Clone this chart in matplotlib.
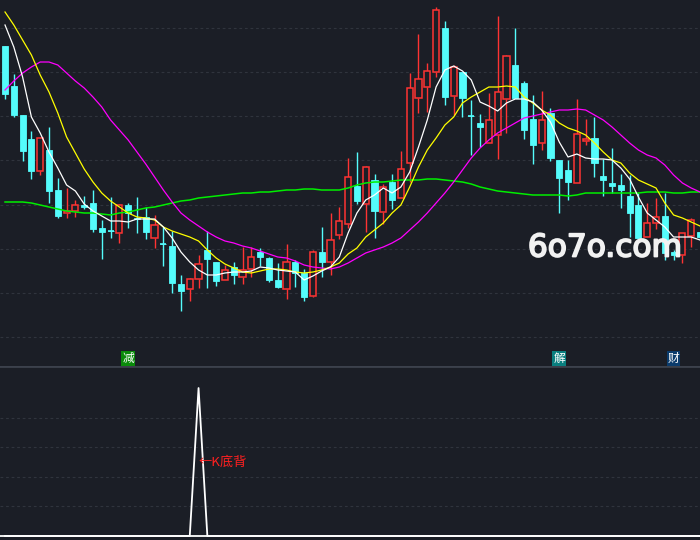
import numpy as np
import matplotlib.pyplot as plt
from matplotlib import patheffects

# Daily candles, price units.
OPEN = [32.0, 28.0, 25.1, 22.7, 19.5, 21.6, 17.6, 15.3, 15.5, 16.1,
        16.3, 13.8, 13.5, 13.3, 16.1, 14.8, 14.9, 12.8, 12.2, 12.0,
        8.2, 7.7, 8.7, 11.6, 10.4, 8.6, 9.9, 8.9, 9.7, 11.4,
        10.8, 8.6, 7.7, 10.4, 9.3, 7.0, 11.4, 10.4, 13.1, 14.2,
        18.0, 16.2, 18.6, 15.4, 18.4, 16.8, 20.3, 26.8, 27.9, 29.4,
        33.8, 27.0, 29.4, 25.0, 24.3, 22.3, 23.1, 26.7, 30.1, 28.3,
        24.7, 22.3, 25.3, 20.6, 19.6, 18.3, 22.5, 22.8, 19.0, 18.3,
        18.1, 17.0, 16.1, 12.9, 14.3, 15.0, 11.4, 11.1, 13.0, 13.4]
HIGH = [32.0, 29.2, 25.1, 23.5, 22.8, 23.9, 18.8, 17.8, 16.6, 17.0,
        17.6, 14.6, 16.9, 16.2, 16.3, 16.9, 15.9, 15.1, 13.9, 13.5,
        9.1, 8.8, 11.1, 13.5, 10.4, 10.1, 10.4, 11.9, 11.9, 11.8,
        10.9, 10.3, 12.2, 10.6, 9.7, 11.6, 13.9, 15.3, 15.9, 20.8,
        21.4, 20.0, 19.2, 18.2, 19.2, 21.5, 29.3, 33.2, 30.3, 35.9,
        34.5, 30.1, 29.4, 26.6, 25.2, 27.3, 35.0, 31.1, 33.8, 28.5,
        27.1, 27.5, 25.8, 20.6, 20.6, 26.7, 24.7, 24.9, 20.7, 21.8,
        19.2, 19.1, 17.3, 16.3, 16.8, 17.3, 11.6, 13.3, 14.8, 13.4]
LOW = [26.7, 24.9, 20.5, 18.7, 19.1, 16.3, 14.8, 14.8, 14.9, 15.7,
       13.4, 10.7, 12.8, 12.3, 13.8, 13.3, 12.7, 11.8, 10.0, 7.3,
       5.5, 6.5, 7.8, 7.8, 8.0, 8.6, 8.2, 8.2, 8.9, 10.0,
       8.4, 7.8, 6.7, 7.9, 6.5, 6.9, 8.9, 9.1, 12.7, 13.8,
       16.2, 13.4, 12.8, 14.2, 15.7, 16.8, 18.4, 25.3, 25.4, 28.9,
       26.1, 25.1, 24.9, 21.1, 21.9, 22.3, 20.7, 23.3, 26.8, 22.7,
       20.2, 21.6, 20.5, 15.3, 16.6, 18.3, 22.1, 18.9, 17.0, 17.3,
       15.8, 12.9, 12.7, 12.9, 13.7, 10.6, 10.6, 10.3, 11.9, 12.6]
CLOSE = [27.2, 25.1, 21.5, 19.5, 22.8, 17.5, 15.0, 15.5, 16.1, 15.9,
         13.7, 13.4, 13.5, 16.1, 15.3, 14.7, 13.4, 14.1, 12.2, 8.3,
         7.5, 8.7, 10.2, 10.7, 8.5, 9.6, 9.1, 9.6, 10.9, 10.9,
         8.6, 7.9, 10.4, 9.3, 6.9, 11.4, 10.4, 12.6, 14.5, 18.9,
         16.5, 19.9, 15.5, 17.9, 16.6, 19.7, 27.8, 28.7, 29.5, 35.6,
         26.9, 29.9, 26.8, 25.0, 23.9, 24.6, 27.4, 31.0, 26.8, 23.6,
         22.1, 24.6, 20.8, 18.8, 18.4, 23.2, 22.7, 20.3, 18.6, 18.0,
         17.6, 15.3, 12.8, 14.3, 14.9, 11.3, 11.1, 13.3, 14.6, 12.9]

# Moving averages as shown on the chart.
MA5 = [34.1, 31.9, 28.9, 24.9, 23.3, 21.4, 19.8, 18.1, 17.5, 16.2,
       15.5, 15.0, 14.5, 14.5, 14.4, 14.7, 14.7, 14.7, 13.9, 12.8,
       11.4, 10.4, 9.6, 9.1, 9.1, 9.3, 9.4, 9.4, 9.5, 9.9,
       9.8, 9.6, 9.5, 9.4, 8.6, 9.0, 9.5, 9.9, 10.9, 13.3,
       15.3, 16.6, 17.1, 17.8, 17.3, 17.9, 19.4, 21.9, 24.6, 27.9,
       29.6, 30.0, 29.5, 28.6, 26.4, 26.0, 25.5, 26.3, 26.7, 26.7,
       26.4, 25.6, 24.4, 22.4, 20.9, 21.2, 20.8, 20.7, 20.7, 20.6,
       19.8, 18.7, 16.9, 15.3, 14.6, 13.9, 12.9, 12.9, 12.9, 12.6]
MA10 = [35.4, 34.1, 32.6, 31.1, 29.1, 27.4, 25.3, 22.9, 21.3, 19.7,
        18.4, 17.3, 16.5, 15.9, 15.3, 14.9, 14.8, 14.6, 13.9, 13.5,
        13.2, 12.9, 12.5, 11.6, 10.8, 10.2, 9.8, 9.4, 9.3, 9.5,
        9.7, 9.7, 9.6, 9.4, 9.3, 9.4, 9.6, 9.9, 10.3, 11.2,
        11.8, 12.9, 13.6, 14.3, 15.3, 16.1, 17.9, 19.9, 21.6, 22.8,
        24.1, 24.9, 26.3, 26.9, 27.4, 27.9, 27.9, 28.0, 27.9, 26.9,
        26.3, 25.6, 25.1, 24.3, 23.8, 23.5, 23.1, 22.3, 21.4, 20.6,
        20.3, 19.3, 18.6, 18.2, 17.8, 16.3, 15.1, 14.8, 14.4, 14.0]
MA20 = [27.6, 28.5, 29.3, 29.9, 30.4, 30.4, 30.1, 29.3, 28.5, 27.8,
        26.9, 25.9, 24.6, 23.6, 22.6, 21.4, 20.2, 18.9, 17.6, 16.4,
        15.3, 14.6, 14.0, 13.4, 12.9, 12.5, 12.3, 12.0, 11.8, 11.5,
        11.2, 10.9, 10.8, 10.5, 10.1, 9.9, 9.8, 9.7, 9.9, 10.3,
        10.8, 11.3, 11.6, 11.9, 12.3, 12.8, 13.6, 14.4, 15.3, 16.3,
        17.3, 18.4, 19.6, 20.8, 21.8, 22.6, 23.3, 23.8, 24.3, 24.8,
        25.0, 25.2, 25.4, 25.6, 25.6, 25.7, 25.6, 25.1, 24.6, 23.9,
        23.1, 22.3, 21.6, 21.1, 20.8, 20.1, 19.1, 18.3, 17.8, 17.4]
MA_LONG = [16.4, 16.4, 16.4, 16.3, 16.1, 15.9, 15.7, 15.5, 15.4, 15.3,
           15.3, 15.2, 15.1, 15.3, 15.4, 15.6, 15.8, 15.9, 16.1, 16.3,
           16.5, 16.6, 16.8, 16.9, 17.0, 17.1, 17.2, 17.3, 17.3, 17.4,
           17.4, 17.5, 17.6, 17.6, 17.7, 17.7, 17.6, 17.6, 17.6, 17.8,
           18.1, 18.3, 18.4, 18.4, 18.5, 18.6, 18.6, 18.6, 18.7, 18.7,
           18.6, 18.5, 18.4, 18.2, 17.9, 17.7, 17.5, 17.4, 17.3, 17.2,
           17.1, 17.1, 17.1, 17.1, 17.0, 17.1, 17.3, 17.3, 17.3, 17.3,
           17.3, 17.3, 17.3, 17.4, 17.4, 17.4, 17.3, 17.3, 17.4, 17.4]

# Lower indicator: one divergence spike.
SIGNAL = [0, 0, 0, 0, 0, 0, 0, 0, 0, 0,
          0, 0, 0, 0, 0, 0, 0, 0, 0, 0,
          0, 0, 1, 0, 0, 0, 0, 0, 0, 0,
          0, 0, 0, 0, 0, 0, 0, 0, 0, 0,
          0, 0, 0, 0, 0, 0, 0, 0, 0, 0,
          0, 0, 0, 0, 0, 0, 0, 0, 0, 0,
          0, 0, 0, 0, 0, 0, 0, 0, 0, 0,
          0, 0, 0, 0, 0, 0, 0, 0, 0, 0]
SPIKE_LABEL = "←K底背"

MARK_IDX = [14, 63, 76]
MARK_TEXT = ["减", "解", "财"]
MARK_BG = ["#0a8a0a", "#0a7f7f", "#0b3b6b"]

BG = "#1b1e26"
GRID = "#30343d"
RED = "#ff3333"
CYAN = "#54fcfc"
CJK = ["Noto Sans CJK SC", "DejaVu Sans"]


def draw_candles(ax, x, o, h, l, c):
    up = c > o
    lo_body = np.minimum(o, c)
    hi_body = np.maximum(o, c)
    # wicks; for hollow red candles keep them outside the body
    ax.vlines(x[~up], l[~up], h[~up], color=CYAN, lw=1.0, zorder=2)
    ax.vlines(x[up], l[up], lo_body[up], color=RED, lw=1.0, zorder=2)
    ax.vlines(x[up], hi_body[up], h[up], color=RED, lw=1.0, zorder=2)
    w = 0.7
    ax.bar(x[~up], (hi_body - lo_body)[~up], bottom=lo_body[~up], width=w,
           color=CYAN, edgecolor=CYAN, lw=0.6, zorder=3)
    ax.bar(x[up], (hi_body - lo_body)[up], bottom=lo_body[up], width=w,
           facecolor=BG, edgecolor=RED, lw=1.1, zorder=3)
    flat = ~up & (hi_body - lo_body < 0.05)
    ax.hlines(o[flat], x[flat] - w / 2, x[flat] + w / 2, color=CYAN,
              lw=1.2, zorder=3)


def main():
    x = np.arange(len(OPEN))
    o, h, l, c = (np.array(v) for v in (OPEN, HIGH, LOW, CLOSE))

    fig = plt.figure(figsize=(7, 5.4), dpi=100, facecolor=BG)
    split = 174 / 540
    ax = fig.add_axes([0, split, 1, 1 - split], facecolor=BG)
    ax2 = fig.add_axes([0, 0, 1, split], facecolor=BG)

    for a in (ax, ax2):
        a.set_xlim(-0.57, 79.0)
        a.set_xticks([])
        a.set_yticks([])
        for s in a.spines.values():
            s.set_visible(False)

    # price panel
    ax.set_ylim(0, 36.6)
    for gy in [33.8, 29.4, 25.0, 20.6, 16.1, 11.7, 7.3, 2.9]:
        ax.axhline(gy, color=GRID, lw=0.8, ls=(0, (2.5, 2.5)), zorder=0)
    draw_candles(ax, x, o, h, l, c)
    ax.plot(x, MA_LONG, color="#00ee00", lw=1.1, zorder=4)
    ax.plot(x, MA20, color="#ff00ff", lw=0.9, zorder=4)
    ax.plot(x, MA10, color="#ffff00", lw=0.9, zorder=4)
    ax.plot(x, MA5, color="#ffffff", lw=0.9, zorder=5)

    for i, t, bg in zip(MARK_IDX, MARK_TEXT, MARK_BG):
        ax.text(x[i], 0.75, t, family=CJK, fontsize=8.5, color="white",
                ha="center", va="center", zorder=6,
                bbox=dict(boxstyle="square,pad=0.08", fc=bg, ec="none"))

    fig.text(605 / 700, 1 - 248 / 540, "6o7o.com", family="DejaVu Sans",
             fontsize=22.5, color="#f2f2f2", ha="center", va="center",
             zorder=10,
             path_effects=[patheffects.withStroke(linewidth=1.3,
                                                  foreground="#f2f2f2")])

    # indicator panel
    ax2.set_ylim(-0.027, 1.149)
    for gy in [0.2, 0.4, 0.6, 0.8]:
        ax2.axhline(gy, color=GRID, lw=0.8, ls=(0, (2.5, 2.5)), zorder=0)
    ax2.axhline(1.149, color="#3c414c", lw=2.0, zorder=1)
    ax2.axhline(0, color="white", lw=1.3, zorder=2)
    ax2.plot(x, SIGNAL, color="white", lw=1.3, zorder=3)
    peak = int(np.argmax(SIGNAL))
    ax2.text(x[peak], 0.5, SPIKE_LABEL, family=CJK, fontsize=9.5,
             color="#ff2020", ha="left", va="center")

    fig.savefig("out.png", dpi=100, facecolor=BG)


if __name__ == "__main__":
    main()
